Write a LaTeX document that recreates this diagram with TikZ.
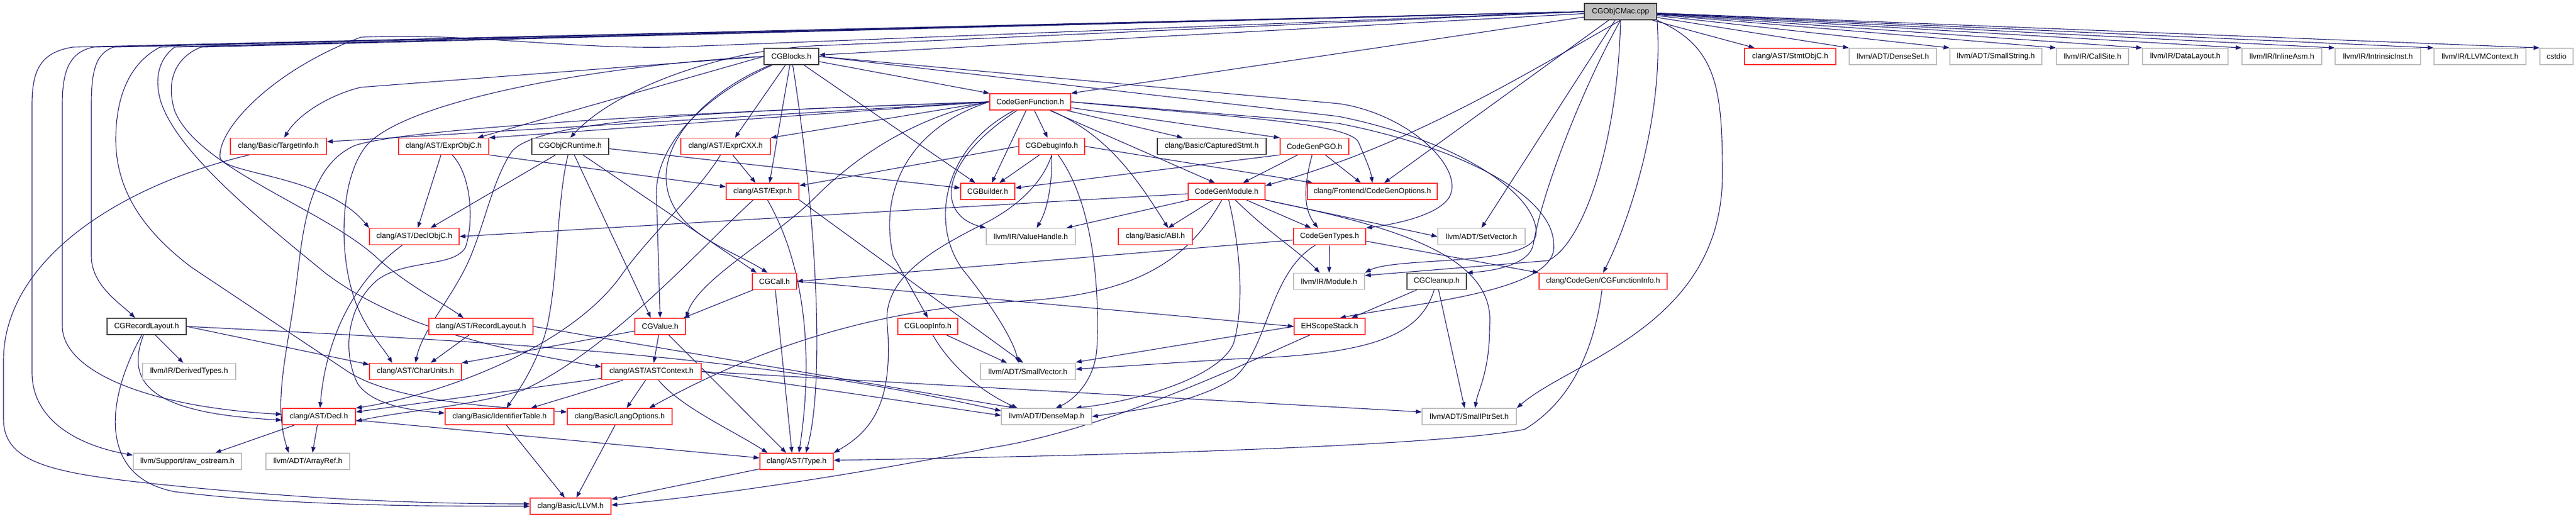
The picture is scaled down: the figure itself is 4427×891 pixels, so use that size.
\documentclass[tikz,border=0pt]{standalone}
\usepackage{fontspec}
\setmainfont{Liberation Sans}
\usetikzlibrary{arrows.meta}
\pgfdeclarelayer{bg}
\pgfsetlayers{bg,main}
\definecolor{edgec}{HTML}{191970}
\definecolor{redb}{HTML}{FF3333}
\definecolor{greyb}{HTML}{BFBFBF}
\definecolor{blackb}{HTML}{404040}
\definecolor{rootf}{HTML}{BFBFBF}
\tikzset{
  nb/.style={draw, line width=0.75pt, fill=white, inner sep=0pt, minimum height=14pt, font=\fontsize{6.5}{7}\selectfont, text=black},
  rn/.style={nb, draw=redb},
  gn/.style={nb, draw=greyb},
  kn/.style={nb, draw=blackb},
  rootn/.style={nb, draw=blackb, fill=rootf},
  edge/.style={draw=edgec, line width=0.55pt, -{Triangle[length=5pt,width=3.6pt]}},
}
\begin{document}
\begin{tikzpicture}[x=0.5pt,y=-0.5pt]
\useasboundingbox (0,0) rectangle (4427,891);
% ---------------- nodes
\node[rootn, minimum width=62pt] (M) at (2785,20) {CGObjCMac.cpp};
\node[kn, minimum width=47pt] (B) at (1360,97) {CGBlocks.h};
\node[rn, minimum width=78.5pt] (StmtObjC) at (3076.5,97) {clang/AST/StmtObjC.h};
\node[gn, minimum width=75pt] (DenseSet) at (3253,97) {llvm/ADT/DenseSet.h};
\node[gn, minimum width=79pt] (SmallString) at (3430,97) {llvm/ADT/SmallString.h};
\node[gn, minimum width=62pt] (CallSite) at (3596,97) {llvm/IR/CallSite.h};
\node[gn, minimum width=73.5pt] (DataLayout) at (3755.5,97) {llvm/IR/DataLayout.h};
\node[gn, minimum width=68.5pt] (InlineAsm) at (3921.5,97) {llvm/IR/InlineAsm.h};
\node[gn, minimum width=73.5pt] (IntrinsicInst) at (4086.5,97) {llvm/IR/IntrinsicInst.h};
\node[gn, minimum width=79pt] (LLVMContext) at (4262,97) {llvm/IR/LLVMContext.h};
\node[gn, minimum width=28.5pt] (cstdio) at (4393.5,97) {cstdio};
\node[rn, minimum width=69.5pt] (F) at (1770.5,175) {CodeGenFunction.h};
\node[rn, minimum width=82.5pt] (TargetInfo) at (478.5,251.5) {clang/Basic/TargetInfo.h};
\node[rn, minimum width=77.5pt] (ExprObjC) at (762.5,251.5) {clang/AST/ExprObjC.h};
\node[kn, minimum width=66pt] (ObjCRuntime) at (980,251.5) {CGObjCRuntime.h};
\node[rn, minimum width=77pt] (ExprCXX) at (1247,251.5) {clang/AST/ExprCXX.h};
\node[rn, minimum width=56.5pt] (DebugInfo) at (1807.5,251.5) {CGDebugInfo.h};
\node[kn, minimum width=93.5pt] (Captured) at (2082.5,251.5) {clang/Basic/CapturedStmt.h};
\node[rn, minimum width=59pt] (PGO) at (2259,251.5) {CodeGenPGO.h};
\node[rn, minimum width=62.5pt] (Expr) at (1310.5,329) {clang/AST/Expr.h};
\node[rn, minimum width=46.5pt] (Builder) at (1697.5,329) {CGBuilder.h};
\node[rn, minimum width=66pt] (CGM) at (2108,329) {CodeGenModule.h};
\node[rn, minimum width=111.5pt] (CGOpts) at (2358.5,329) {clang/Frontend/CodeGenOptions.h};
\node[rn, minimum width=77pt] (DeclObjC) at (712,406.5) {clang/AST/DeclObjC.h};
\node[gn, minimum width=76.5pt] (ValueHandle) at (1771.5,406.5) {llvm/IR/ValueHandle.h};
\node[rn, minimum width=63.5pt] (ABI) at (1985.5,406.5) {clang/Basic/ABI.h};
\node[rn, minimum width=62pt] (Types) at (2285,406.5) {CodeGenTypes.h};
\node[gn, minimum width=75pt] (SetVector) at (2546,406.5) {llvm/ADT/SetVector.h};
\node[rn, minimum width=38pt] (Call) at (1331,483.5) {CGCall.h};
\node[gn, minimum width=61pt] (Module) at (2284,483.5) {llvm/IR/Module.h};
\node[kn, minimum width=51pt] (Cleanup) at (2469,483.5) {CGCleanup.h};
\node[rn, minimum width=110pt] (FuncInfo) at (2755,483.5) {clang/CodeGen/CGFunctionInfo.h};
\node[kn, minimum width=68pt] (CGRL) at (252,561) {CGRecordLayout.h};
\node[rn, minimum width=89.5pt] (RecLayout) at (826.5,561) {clang/AST/RecordLayout.h};
\node[rn, minimum width=43.5pt] (Value) at (1134.5,561) {CGValue.h};
\node[rn, minimum width=51.5pt] (LoopInfo) at (1594.5,561) {CGLoopInfo.h};
\node[rn, minimum width=61pt] (EHScope) at (2285,561) {EHScopeStack.h};
\node[gn, minimum width=80pt] (Derived) at (325,638.5) {llvm/IR/DerivedTypes.h};
\node[rn, minimum width=79pt] (CharUnits) at (714,638.5) {clang/AST/CharUnits.h};
\node[rn, minimum width=85.5pt] (ASTContext) at (1119.5,638.5) {clang/AST/ASTContext.h};
\node[gn, minimum width=81.5pt] (SmallVector) at (1766.5,638.5) {llvm/ADT/SmallVector.h};
\node[rn, minimum width=63pt] (Decl) at (548,716) {clang/AST/Decl.h};
\node[rn, minimum width=93.5pt] (IdentTable) at (858.5,716) {clang/Basic/IdentifierTable.h};
\node[rn, minimum width=90pt] (LangOpts) at (1065,716) {clang/Basic/LangOptions.h};
\node[gn, minimum width=77.5pt] (DenseMap) at (1798.5,716) {llvm/ADT/DenseMap.h};
\node[gn, minimum width=81pt] (SmallPtrSet) at (2525,716) {llvm/ADT/SmallPtrSet.h};
\node[gn, minimum width=93pt] (RawOS) at (322,793) {llvm/Support/raw\_ostream.h};
\node[gn, minimum width=72pt] (ArrayRef) at (529,793) {llvm/ADT/ArrayRef.h};
\node[rn, minimum width=63pt] (Type) at (1369,793) {clang/AST/Type.h};
\node[rn, minimum width=69.5pt] (LLVM) at (980.5,870) {clang/Basic/LLVM.h};
% ---------------- edges
\begin{pgfonlayer}{bg}
% from CGObjCMac.cpp
\draw[edge] (M) -- (B);
\draw[edge] (M) -- (F.north east);
\draw[edge] (M.west) -- (1420,78) .. controls (1250,82) and (1060,150) .. (ObjCRuntime.north);
\draw[edge] (M.south) .. controls (2720,150) and (2650,330) .. (2635,420) .. controls (2630,450) and (2580,465) .. (Cleanup.north east);
\draw[edge] (M.west) -- (195,81) .. controls (165,92) and (157,120) .. (157,180) -- (157,440) .. controls (157,490) and (205,520) .. ([xshift=-10pt]CGRL.north);
\draw[edge] (M.south) .. controls (2600,140) and (2420,250) .. ([yshift=5pt]CGM.east);
\draw[edge] (M.west) -- (300,81) .. controls (275,100) and (265,130) .. (275,170) .. controls (300,260) and (450,380) .. (560,470) .. controls (680,560) and (850,600) .. ([yshift=4pt]ASTContext.west);
\draw[edge] (M.west) -- (160,81) .. controls (120,90) and (107,120) .. (107,180) -- (107,560) .. controls (107,640) and (260,700) .. ([yshift=2pt]Decl.west);
\draw[edge] (M.west) -- (1180,80) .. controls (1000,88) and (800,55) .. (620,64) .. controls (470,120) and (375,220) .. (378,270) .. controls (382,300) and (560,300) .. (DeclObjC.north west);
\draw[edge] (M.west) -- (345,81) .. controls (300,100) and (285,140) .. (300,190) .. controls (340,290) and (560,360) .. (650,445) .. controls (700,490) and (760,520) .. ([xshift=-15pt]RecLayout.north);
\draw[edge] (M) -- ([xshift=9pt]StmtObjC.north west);
\draw[edge] (M.west) -- (275,81) .. controls (220,110) and (199,170) .. (199,240) .. controls (199,330) and (250,400) .. (330,460) -- (600,640) .. controls (680,690) and (850,700) .. ([yshift=4pt]LangOpts.west);
\draw[edge] (M.south east) .. controls (2860,200) and (2800,380) .. (FuncInfo.north);
\draw[edge] (M) -- (CGOpts);
\draw[edge] (M) -- (DenseSet.north west);
\draw[edge] (M) -- (SmallString.north west);
\draw[edge] (M) -- (CallSite.north west);
\draw[edge] (M) -- (DataLayout.north west);
\draw[edge] (M) -- (InlineAsm.north west);
\draw[edge] (M) -- (IntrinsicInst.north west);
\draw[edge] (M) -- (LLVMContext.north west);
\draw[edge] (M) -- (cstdio.north west);
\draw[edge] (M.south) .. controls (2780,250) and (2720,420) .. (2660,448) -- ([yshift=5pt]Module.east);
\draw[edge] (M.west) -- (125,81) .. controls (70,90) and (55,120) .. (55,180) -- (55,640) .. controls (55,720) and (130,765) .. ([yshift=-2pt]RawOS.north west);
\draw[edge] (M) -- (SetVector.north);
\draw[edge] (M.south east) .. controls (2950,80) and (2960,150) .. (2960,300) .. controls (2960,560) and (2700,620) .. (SmallPtrSet.north east);
% from CGBlocks.h
\draw[edge] (B) -- (Builder);
\draw[edge] (B) .. controls (1230,150) and (1140,230) .. (1145,310) .. controls (1150,400) and (1260,430) .. ([xshift=-6pt]Call.north);
\draw[edge] (B) .. controls (1220,160) and (1130,240) .. (1128,330) -- (Value.north);
\draw[edge] (B) -- (F.north west);
\draw[edge] (B.east) -- (2300,178) .. controls (2420,195) and (2520,290) .. (2490,340) .. controls (2470,370) and (2400,385) .. (Types.north east);
\draw[edge] (B.west) .. controls (1050,110) and (700,170) .. (630,250) .. controls (580,310) and (580,460) .. (620,540) .. controls (640,580) and (660,600) .. ([xshift=-20pt]CharUnits.north);
\draw[edge] (B) -- ([xshift=6pt]Expr.north);
\draw[edge] (B) -- ([xshift=8pt]ExprCXX.north);
\draw[edge] (B.west) -- ([xshift=-10pt]ExprObjC.north east);
\draw[edge] (B) .. controls (1400,350) and (1420,650) .. ([xshift=8pt]Type.north);
\draw[edge] (B.west) -- (620,150) .. controls (560,165) and (510,200) .. ([xshift=5pt]TargetInfo.north);
\draw[edge] (B.east) -- (2300,200) .. controls (2500,240) and (2640,330) .. (2640,400) .. controls (2640,460) and (2400,440) .. (Module.north east);
% from CodeGenFunction.h
\draw[edge] (F) -- (Builder);
\draw[edge] (F) -- (DebugInfo);
\draw[edge] (F.west) .. controls (1560,220) and (1510,330) .. (1535,440) -- (LoopInfo.north);
\draw[edge] (F.west) .. controls (1580,200) and (1480,260) .. (1400,340) .. controls (1330,410) and (1200,480) .. (Value.north east);
\draw[edge] (F) -- ([xshift=-10pt]CGM.north);
\draw[edge] (F) -- (PGO.north west);
\draw[edge] (F) -- ([xshift=-25pt]Captured.north);
\draw[edge] (F.east) -- (2300,212) .. controls (2520,255) and (2670,340) .. (2670,420) .. controls (2680,500) and (2440,520) .. ([xshift=-22pt]EHScope.north east);
\draw[edge] (F.west) .. controls (1300,190) and (930,200) .. (880,260) .. controls (845,310) and (830,400) .. (800,460) .. controls (770,520) and (725,570) .. (CharUnits.north);
\draw[edge] (F.west) -- (ExprCXX.north east);
\draw[edge] (F.west) -- (ExprObjC.north east);
\draw[edge] (F) .. controls (1900,230) and (1950,300) .. ([xshift=11pt]ABI.north);
\draw[edge] (F.east) .. controls (2100,200) and (2320,210) .. (2335,245) .. controls (2345,270) and (2355,290) .. (CGOpts.north);
\draw[edge] (F.west) -- ([yshift=4pt]TargetInfo.east);
\draw[edge] (F.west) .. controls (1200,192) and (700,220) .. (610,250) .. controls (520,290) and (520,420) .. (505,520) .. controls (490,620) and (470,700) .. ([xshift=20pt]ArrayRef.north west);
\draw[edge] (F) .. controls (1610,260) and (1600,400) .. (1660,470) .. controls (1700,520) and (1740,580) .. ([xshift=-8pt]SmallVector.north);
\draw[edge] (F) .. controls (1610,280) and (1610,370) .. (ValueHandle.north west);
% from CGDebugInfo.h
\draw[edge] (DebugInfo) -- ([xshift=10pt]Builder.north);
\draw[edge] (DebugInfo.west) -- ([yshift=5pt]Expr.east);
\draw[edge] (DebugInfo) .. controls (1808,320) and (1800,360) .. ([xshift=5pt]ValueHandle.north);
\draw[edge] (DebugInfo.east) -- ([xshift=5pt]CGOpts.north west);
\draw[edge] (DebugInfo.south) .. controls (1790,320) and (1740,360) .. (1690,385) .. controls (1600,430) and (1515,480) .. (1525,560) .. controls (1535,690) and (1500,740) .. (Type.north east);
\draw[edge] (DebugInfo) .. controls (1880,350) and (1890,500) .. (1885,600) .. controls (1880,660) and (1840,690) .. ([xshift=8pt]DenseMap.north);
% from CodeGenPGO.h
\draw[edge] (PGO.south west) -- ([yshift=3pt]Builder.east);
\draw[edge] (PGO) -- ([xshift=14pt]CGM.north);
\draw[edge] (PGO) .. controls (2240,320) and (2240,360) .. ([xshift=-10pt]Types.north);
\draw[edge] (PGO) -- ([xshift=-10pt]CGOpts.north);
% from CodeGenModule.h
\draw[edge] (CGM) -- ([xshift=-16pt]Types.north);
\draw[edge] (CGM) -- ([xshift=11pt]ABI.north);
\draw[edge] (CGM) -- ([xshift=-8pt]ValueHandle.north east);
\draw[edge] ([yshift=-2pt]CGM.west) -- (DeclObjC.east);
\draw[edge] (CGM) .. controls (2040,450) and (1950,505) .. (1760,517) .. controls (1500,530) and (1300,600) .. ([xshift=-20pt]LangOpts.north east);
\draw[edge] (CGM) .. controls (2130,420) and (2140,520) .. (2120,590) .. controls (2095,650) and (1950,690) .. ([xshift=25pt]DenseMap.north);
\draw[edge] (CGM) .. controls (2180,400) and (2230,430) .. ([xshift=-8pt]Module.north);
\draw[edge] (CGM.south east) -- (SetVector.west);
\draw[edge] (CGM.south east) .. controls (2400,390) and (2570,440) .. (2560,560) .. controls (2560,640) and (2540,670) .. ([xshift=5pt]SmallPtrSet.north);
% from CodeGenTypes.h
\draw[edge] ([yshift=-3pt]Types.west) -- (Call.east);
\draw[edge] ([yshift=-4pt]Types.east) -- (FuncInfo.north west);
\draw[edge] (Types) -- (Module);
\draw[edge] (Types) .. controls (2180,470) and (2180,600) .. (2120,650) .. controls (2050,695) and (1950,705) .. (DenseMap.east);
% from CGCall.h
\draw[edge] (Call) -- ([xshift=-2pt]Value.north east);
\draw[edge] (Call) -- ([xshift=-4pt]Type.north);
\draw[edge] (Call.east) -- (EHScope.west);
% from CGObjCRuntime.h
\draw[edge] (ObjCRuntime) -- ([xshift=14pt]DeclObjC.north);
\draw[edge] (ObjCRuntime) .. controls (955,350) and (960,500) .. (935,580) .. controls (915,640) and (885,680) .. ([xshift=6pt]IdentTable.north);
\draw[edge] (ObjCRuntime) -- ([xshift=-8pt]Value.north);
\draw[edge] (ObjCRuntime) -- ([xshift=4pt]Call.north west);
\draw[edge] ([yshift=-2pt]ObjCRuntime.east) -- ([yshift=3pt]Builder.west);
% from clang/AST/ExprObjC.h
\draw[edge] (ExprObjC) -- ([xshift=3pt]DeclObjC.north);
\draw[edge] (ExprObjC.south east) -- ([yshift=4pt]Expr.west);
\draw[edge] (ExprObjC) .. controls (810,300) and (815,380) .. (800,425) .. controls (780,460) and (700,445) .. (650,480) .. controls (600,520) and (585,600) .. (615,660) .. controls (640,695) and (700,705) .. ([yshift=3pt]IdentTable.west);
% from clang/AST/ExprCXX.h
\draw[edge] (ExprCXX) -- ([xshift=-6pt]Expr.north);
\draw[edge] (ExprCXX) .. controls (1200,330) and (1120,400) .. (1070,470) .. controls (980,600) and (750,680) .. (Decl.north east);
% from clang/AST/Expr.h
\draw[edge] (Expr) .. controls (1200,430) and (1050,600) .. (900,670) .. controls (800,700) and (700,705) .. ([yshift=-4pt]Decl.east);
\draw[edge] (Expr) .. controls (1380,450) and (1400,600) .. ([xshift=2pt]Type.north);
\draw[edge] (Expr.south east) -- ([xshift=-4pt]SmallVector.north);
% from CGLoopInfo.h
\draw[edge] (LoopInfo) -- ([xshift=-18pt]SmallVector.north);
\draw[edge] (LoopInfo) .. controls (1640,640) and (1700,680) .. ([xshift=-25pt]DenseMap.north);
% from CGValue.h
\draw[edge] (Value) -- ([xshift=2pt]ASTContext.north);
\draw[edge] ([yshift=-4pt]Value.west) -- (CharUnits.north east);
\draw[edge] (Value) -- ([xshift=-9pt]Type.north);
% from clang/AST/RecordLayout.h
\draw[edge] (RecLayout) -- ([xshift=13pt]CharUnits.north);
\draw[edge] (RecLayout.east) -- ([xshift=12pt]DenseMap.north west);
% from CGRecordLayout.h
\draw[edge] (CGRL) -- ([xshift=-5pt]Derived.north);
\draw[edge] (CGRL) .. controls (215,660) and (260,710) .. ([yshift=-3pt]Decl.west);
\draw[edge] (CGRL) .. controls (180,690) and (170,820) .. (300,845) .. controls (500,870) and (750,870) .. (LLVM.west);
\draw[edge] (CGRL.east) -- ([yshift=6pt]CharUnits.west);
\draw[edge] (CGRL.east) .. controls (900,590) and (1300,612) .. ([yshift=5pt]DenseMap.west);
% from clang/AST/DeclObjC.h
\draw[edge] (DeclObjC) .. controls (610,480) and (560,580) .. ([xshift=1pt]Decl.north);
% from clang/AST/ASTContext.h
\draw[edge] (ASTContext) -- ([yshift=4pt]Decl.east);
\draw[edge] (ASTContext) -- ([xshift=27pt]IdentTable.north);
\draw[edge] (ASTContext) -- ([xshift=6pt]LangOpts.north);
\draw[edge] (ASTContext) .. controls (1170,700) and (1260,740) .. ([xshift=-25pt]Type.north);
\draw[edge] (ASTContext.east) -- ([yshift=1pt]DenseMap.west);
\draw[edge] (ASTContext.east) -- ([yshift=4pt]SmallPtrSet.west);
% from clang/AST/Decl.h
\draw[edge] (Decl) -- ([xshift=24pt]RawOS.north);
\draw[edge] (Decl) -- ([xshift=4pt]ArrayRef.north);
\draw[edge] ([yshift=-3pt]Decl.east) -- ([yshift=3pt]Type.west);
% into clang/Basic/LLVM.h
\draw[edge] ([xshift=-25pt]TargetInfo.south) .. controls (200,320) and (6,450) .. (6,620) -- (6,720) .. controls (6,800) and (100,815) .. (300,835) .. controls (550,860) and (750,866) .. ([yshift=2pt]LLVM.west);
\draw[edge] (IdentTable) -- ([xshift=-5pt]LLVM.north);
\draw[edge] (LangOpts) -- ([xshift=5pt]LLVM.north);
\draw[edge] (Type) -- ([yshift=6pt]LLVM.east);
\draw[edge] (EHScope) .. controls (2150,620) and (1900,740) .. (1700,770) .. controls (1450,820) and (1200,855) .. ([yshift=1pt]LLVM.east);
% from EHScopeStack.h
\draw[edge] (EHScope.west) -- ([yshift=8pt]SmallVector.east);
% from CGCleanup.h
\draw[edge] (Cleanup) -- ([xshift=-12pt]EHScope.north east);
\draw[edge] (Cleanup) .. controls (2440,580) and (2350,610) .. (2120,617) -- ([yshift=2pt]SmallVector.east);
\draw[edge] (Cleanup) -- ([xshift=-4pt]SmallPtrSet.north);
% from clang/CodeGen/CGFunctionInfo.h
\draw[edge] (FuncInfo) .. controls (2740,600) and (2700,690) .. (2620,738) .. controls (2450,770) and (1800,785) .. ([yshift=1pt]Type.east);
\end{pgfonlayer}
\end{tikzpicture}
\end{document}
